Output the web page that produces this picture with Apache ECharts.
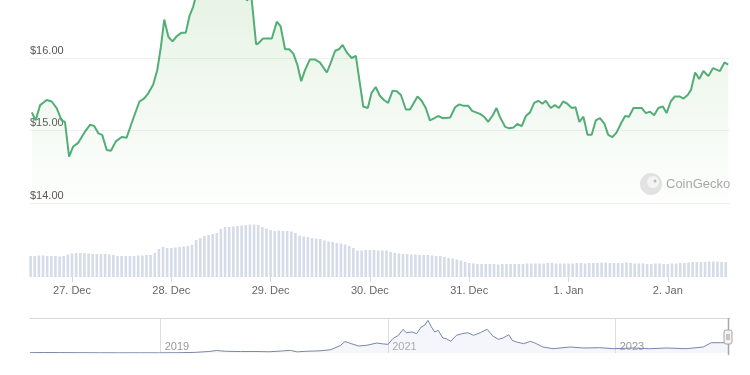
<!DOCTYPE html>
<html>
<head>
<meta charset="utf-8">
<script src="https://cdn.jsdelivr.net/npm/echarts@6/dist/echarts.min.js"></script>
<style>html,body{margin:0;padding:0;background:#fff;}#c{width:750px;height:375px;}</style>
</head>
<body>
<div id="c"></div>
<script>
// Price line: hours since 27 Dec 00:00, price in USD
var priceHours = [-9.7,-8.8,-7.7,-6.1,-4.9,-3.7,-2.5,-1.7,-0.7,0.3,1.5,3.1,4.4,5.4,6.4,7.3,8.4,9.4,10.6,12.0,13.2,14.4,16.3,17.4,18.4,19.6,20.6,21.5,22.3,23.3,24.3,25.3,26.5,27.5,28.4,29.3,29.7,
30.9,32.4,33.8,35.3,36.7,38.2,39.6,41.6,42.3,43.3,
44.5,45.0,46.2,48.3,49.5,50.4,51.5,52.5,53.5,54.5,55.4,56.3,57.5,58.7,59.9,61.6,62.5,63.6,64.5,65.4,66.5,67.6,68.6,70.4,71.5,72.4,73.4,74.4,75.4,76.4,77.5,78.5,79.5,80.7,81.7,83.5,84.5,85.5,86.5,87.6,88.5,89.6,91.4,92.6,93.6,94.7,95.8,96.7,98.6,99.6,100.6,101.7,102.6,103.4,104.7,105.7,106.7,107.6,108.7,109.7,110.7,111.7,112.7,113.7,114.5,115.7,116.7,117.7,118.7,119.7,120.8,121.7,122.6,123.6,124.6,125.6,126.6,127.6,128.7,129.6,130.6,131.6,132.7,133.7,134.6,135.7,137.7,138.7,139.7,140.7,141.7,142.8,143.7,144.7,145.7,146.8,147.8,148.8,149.6,150.6,151.6,152.6,153.8,154.9,156.6,157.7,158.6];
var prices = [15.25,15.14,15.35,15.42,15.40,15.31,15.14,15.12,14.64,14.78,14.83,14.98,15.08,15.06,14.96,14.94,14.73,14.72,14.85,14.91,14.90,15.10,15.40,15.44,15.51,15.63,15.83,16.16,16.53,16.29,16.23,16.30,16.35,16.35,16.58,16.71,16.80,
16.95,17.10,17.25,17.05,17.20,17.35,17.15,16.95,16.79,16.88,
16.19,16.20,16.27,16.27,16.50,16.44,16.12,16.12,16.06,15.90,15.68,15.83,15.98,15.98,15.94,15.80,15.93,16.10,16.12,16.18,16.07,16.00,16.03,15.33,15.31,15.52,15.60,15.48,15.42,15.38,15.55,15.54,15.49,15.29,15.29,15.47,15.41,15.31,15.14,15.17,15.20,15.17,15.18,15.32,15.36,15.34,15.34,15.27,15.23,15.19,15.12,15.21,15.31,15.19,15.05,15.03,15.04,15.09,15.06,15.20,15.25,15.38,15.41,15.37,15.41,15.31,15.35,15.31,15.40,15.37,15.31,15.32,15.12,15.19,14.94,14.94,15.14,15.17,15.09,14.94,14.91,14.97,15.10,15.20,15.19,15.31,15.31,15.24,15.26,15.21,15.31,15.33,15.24,15.40,15.47,15.47,15.44,15.49,15.56,15.80,15.71,15.82,15.75,15.86,15.82,15.94,15.91];

// Hourly volume bars, first bar at 26 Dec 14:00 (hour -10)
var volumeStartHour = -10;
var volumes = [21,21,21.5,21.5,21,21,21,20.5,21,22.5,
23.5,24,24,24,23.5,23,23,23,23,22.5,
22,21,21,21,21,21,21.5,21.5,22,22,
24,28,30,29,29,29.5,30,30.5,31,32,
37,39,41,42,43,44,48,50,50,50.5,
51,51.5,52,52.5,52.5,52,50,48.5,47,46,
46.5,46,46,45.5,44,41.5,40.5,40,39,38.5,
38,36.5,35.5,35,34,33.5,32.5,31,29,26.5,
26.5,27,27,27,26.5,26.5,26.5,25,24,23.5,
23,23,22.5,22.5,22,22,22,21.5,21,21,
20,19,18.5,17.5,16.5,15,14,
13.5,13,13,13,13,13,12.5,13,13,13,13,13,13,13.5,13.5,13.5,
13.5,13.5,14,14,13.5,13.5,13.5,13.5,13.5,14,14,13.5,
14,14,14,14.5,14.5,14,14,14,14,14.5,14,13.5,
13.5,13.5,13,13,13.5,13.5,13,13,13.5,13.5,14,14,
14.5,15,15,15,15,15.5,15.5,15.5,15,15];

// X tick labels (hours since 27 Dec 00:00)
var dayTickHours = [0,24,48,72,96,120,144];
var dayTickLabels = ['27. Dec','28. Dec','29. Dec','30. Dec','31. Dec','1. Jan','2. Jan'];
var priceTicks = [14,15,16];

// Navigator: long-term history (fractional year, price USD)
var navYears = [2017.851,2017.98,2018.11,2018.29,2018.47,2018.64,2018.82,2018.99,2019.17,2019.30,2019.43,2019.49,2019.57,2019.70,2019.83,2019.96,2020.06,2020.14,2020.20,2020.27,2020.40,2020.49,2020.53,2020.58,2020.62,2020.68,2020.74,2020.81,2020.90,2020.96,2021.00,2021.04,2021.09,2021.13,2021.16,2021.21,2021.25,2021.29,2021.32,2021.35,2021.38,2021.41,2021.44,2021.48,2021.51,2021.55,2021.60,2021.65,2021.70,2021.75,2021.81,2021.87,2021.92,2021.97,2022.01,2022.06,2022.09,2022.13,2022.19,2022.25,2022.29,2022.36,2022.45,2022.60,2022.72,2022.86,2022.98,2023.15,2023.30,2023.45,2023.62,2023.77,2023.84,2023.92,2023.98,2024.005];
var navPrices = [0.5,0.8,0.65,0.5,0.4,0.3,0.35,0.3,0.5,1.0,2.5,4.0,2.8,2.3,2.4,2.0,3.2,4.2,1.8,2.7,3.5,5.1,8.0,12.0,18.4,14.7,11.2,12.3,16.0,14.4,13.9,22.9,28.3,37.9,32.5,33.6,30.9,41.6,44.3,52.3,41.6,33.6,36.3,24.0,22.9,18.7,28.3,30.9,32.5,28.3,32.5,37.9,27.2,21.9,24.0,29.3,20.3,17.6,14.9,18.7,16.0,9.6,6.9,9.6,8.0,8.5,6.9,8.0,6.9,8.0,6.9,9.6,16.5,16.5,16.5,15.9];
var navYearTicks = [2019,2021,2023];

var FONT = '"Liberation Sans", Arial, sans-serif';
var hMin = -10.15, hMax = 159.03;

var lineData = priceHours.map(function(h,i){return [h, prices[i]];});
var barData = volumes.map(function(v,i){return [volumeStartHour + i, v];});
var navData = navYears.map(function(y,i){return [y, navPrices[i]];});

var chart = echarts.init(document.getElementById('c'), null, {renderer:'canvas'});
chart.setOption({
  animation: false,
  backgroundColor: '#ffffff',
  grid: [
    {left: 30, right: 20, top: -14.5, bottom: 172, outerBoundsMode: 'none', containLabel: false},
    {left: 30, right: 20, top: 210, bottom: 98, outerBoundsMode: 'none', containLabel: false},
    {left: 30, right: 20, top: 318, bottom: 22, outerBoundsMode: 'none', containLabel: false}
  ],
  xAxis: [
    {gridIndex: 0, type: 'value', min: hMin, max: hMax, show: false},
    {gridIndex: 1, type: 'value', min: hMin, max: hMax,
      axisLine: {show: false},
      splitLine: {show: false},
      axisTick: {show: true, length: 5, customValues: dayTickHours, lineStyle: {color: '#d4dae5'}},
      axisLabel: {customValues: dayTickHours, margin: 8, color: '#666', fontSize: 11, fontFamily: FONT,
        formatter: function(v){ var i = dayTickHours.indexOf(Math.round(v)); return i >= 0 ? dayTickLabels[i] : ''; }}
    },
    {gridIndex: 2, type: 'value', min: 2017.851, max: 2024.005,
      axisLine: {show: false},
      splitLine: {show: false},
      axisTick: {show: true, inside: true, length: 35, customValues: navYearTicks, lineStyle: {color: '#dcdcdc'}},
      axisLabel: {show: true, inside: true, customValues: navYearTicks, margin: 1, align: 'left', padding: [0,0,0,4],
        color: '#999', fontSize: 11, fontFamily: FONT, formatter: function(v){return String(Math.round(v));}}
    },
    {gridIndex: 2, type: 'value', position: 'top', min: 2017.851, max: 2024.005,
      axisLine: {show: true, lineStyle: {color: '#d8d8d8', width: 1}},
      axisTick: {show: false}, axisLabel: {show: false}, splitLine: {show: false}}
  ],
  yAxis: [
    {gridIndex: 0, type: 'value', min: 14, max: 17, interval: 1,
      axisLine: {show: false}, axisTick: {show: false},
      splitLine: {show: true, lineStyle: {color: '#efefef', width: 1}},
      axisLabel: {inside: true, margin: 0, verticalAlign: 'bottom', padding: [0,0,2,0], color: '#555', fontSize: 11, fontFamily: FONT,
        formatter: function(v){ return priceTicks.indexOf(v) >= 0 ? '$' + v.toFixed(2) : ''; }}
    },
    {gridIndex: 1, type: 'value', min: 0, max: 67, show: false},
    {gridIndex: 2, type: 'value', min: 0, max: 56, show: false}
  ],
  series: [
    {type: 'line', xAxisIndex: 0, yAxisIndex: 0, data: lineData, symbol: 'none', clip: true, z: 3,
      lineStyle: {color: '#52ad76', width: 2},
      areaStyle: {origin: 'start', color: new echarts.graphic.LinearGradient(0,0,0,1,[
        {offset: 0, color: 'rgba(130,195,120,0.32)'},
        {offset: 1, color: 'rgba(130,195,120,0.02)'}
      ])}
    },
    {type: 'bar', xAxisIndex: 1, yAxisIndex: 1, data: barData, barWidth: 2.6,
      itemStyle: {color: '#d5dce7'}},
    {type: 'line', xAxisIndex: 2, yAxisIndex: 2, data: navData, symbol: 'none',
      lineStyle: {color: '#7886a8', width: 1},
      areaStyle: {color: 'rgba(215,220,238,0.35)'}
    }
  ],
  graphic: [
    {type: 'circle', shape: {cx: 651, cy: 184, r: 11}, style: {fill: '#e2e2e2'}, z: 10},
    {type: 'circle', shape: {cx: 653, cy: 182, r: 6}, style: {fill: '#f4f4f4'}, z: 11},
    {type: 'circle', shape: {cx: 655, cy: 181, r: 1.5}, style: {fill: '#bbbbbb'}, z: 12},
    {type: 'text', x: 666, y: 184, style: {text: 'CoinGecko', fill: '#a8a8a8', font: '13px ' + FONT, verticalAlign: 'middle'}, z: 10},
    {type: 'line', shape: {x1: 728.5, y1: 318, x2: 728.5, y2: 355}, style: {stroke: '#a8a8a8', lineWidth: 1.5}, z: 10},
    {type: 'rect', shape: {x: 724, y: 330, width: 8, height: 14, r: 2}, style: {fill: '#f2f2f2', stroke: '#a8a8a8', lineWidth: 1}, z: 11},
    {type: 'line', shape: {x1: 727, y1: 334, x2: 727, y2: 340}, style: {stroke: '#999', lineWidth: 1}, z: 12},
    {type: 'line', shape: {x1: 729, y1: 334, x2: 729, y2: 340}, style: {stroke: '#999', lineWidth: 1}, z: 12}
  ]
});
</script>
</body>
</html>
